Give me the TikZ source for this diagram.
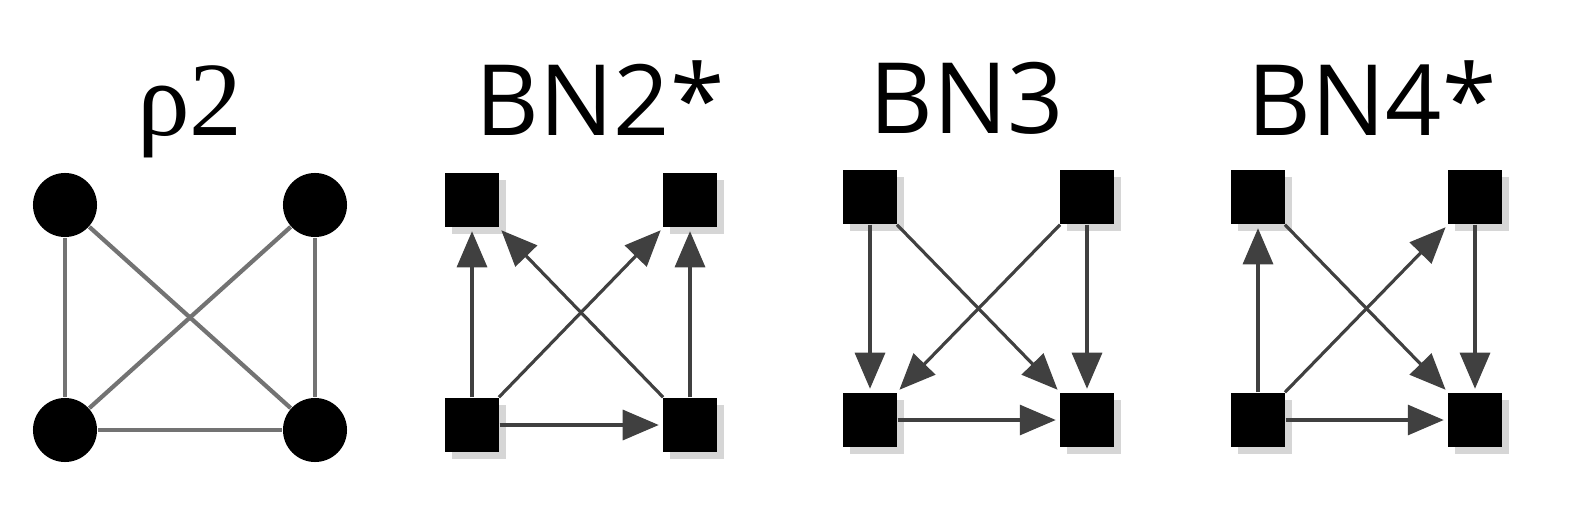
\documentclass[tikz,border=0pt]{standalone}
\usepackage{fontspec}
\setmainfont{Liberation Serif}
\newfontfamily\titlesans{Open Sans}
\usetikzlibrary{arrows.meta,shadows}

\begin{document}
\begin{tikzpicture}[x=0.01cm, y=-0.01cm]
		% Define styles
		\tikzset{
			box/.style={rectangle, minimum size=0.54cm, inner sep=0pt, fill=black, drop shadow={shadow xshift=0.07cm, shadow yshift=-0.07cm, fill=gray!40, opacity=0.8}},
			dot/.style={circle, minimum size=0.64cm, inner sep=0pt, fill=black},
			link/.style={draw=gray!90!black, line width=1.2pt},
			arc/.style={draw=black!75, line width=0.9pt, -{Triangle[length=0.36cm, width=0.3cm]}, shorten >=1pt},
			title/.style={font=\titlesans\fontsize{28}{32}\selectfont}
		}
		\useasboundingbox (0,0) rectangle (1590,509);

		% rho2
		\node[font=\fontsize{30}{34}\selectfont] at (190,112) {ρ2};
		\node[dot] (p1) at (65,205) {};
		\node[dot] (p2) at (315,205) {};
		\node[dot] (p3) at (65,430) {};
		\node[dot] (p4) at (315,430) {};
		\draw[link] (p1) -- (p3);
		\draw[link] (p2) -- (p4);
		\draw[link] (p3) -- (p4);
		\draw[link] (p1) -- (p4);
		\draw[link] (p2) -- (p3);

		% BN2*
		\node[title] at (600,98) {BN2*};
		\node[box] (a1) at (472,200) {};
		\node[box] (a2) at (690,200) {};
		\node[box] (a3) at (472,425) {};
		\node[box] (a4) at (690,425) {};
		\draw[arc] (a3) -- (a1);
		\draw[arc] (a4) -- (a1);
		\draw[arc] (a3) -- (a2);
		\draw[arc] (a4) -- (a2);
		\draw[arc] (a3) -- (a4);

		% BN3
		\node[title] at (967,98) {BN3};
		\node[box] (b1) at (870,197) {};
		\node[box] (b2) at (1087,197) {};
		\node[box] (b3) at (870,420) {};
		\node[box] (b4) at (1087,420) {};
		\draw[arc] (b1) -- (b3);
		\draw[arc] (b2) -- (b4);
		\draw[arc] (b1) -- (b4);
		\draw[arc] (b2) -- (b3);
		\draw[arc] (b3) -- (b4);

		% BN4*
		\node[title] at (1372,98) {BN4*};
		\node[box] (c1) at (1258,197) {};
		\node[box] (c2) at (1475,197) {};
		\node[box] (c3) at (1258,420) {};
		\node[box] (c4) at (1475,420) {};
		\draw[arc] (c3) -- (c1);
		\draw[arc] (c3) -- (c2);
		\draw[arc] (c1) -- (c4);
		\draw[arc] (c2) -- (c4);
		\draw[arc] (c3) -- (c4);
	\end{tikzpicture}
\end{document}
